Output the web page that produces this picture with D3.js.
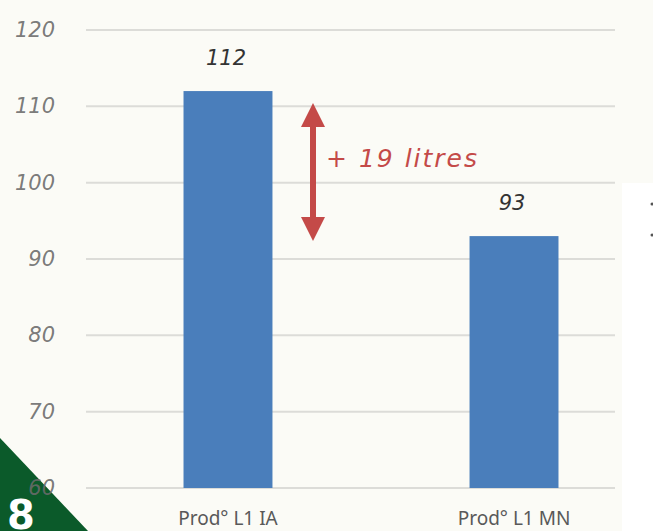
<!DOCTYPE html>
<html>
<head>
<meta charset="utf-8">
<script src="https://cdn.jsdelivr.net/npm/d3@7"></script>
<style>
  body { margin: 0; background: #fbfbf6; }
  svg { display: block; }
</style>
</head>
<body>
<div id="chart"></div>
<script>
const categories = ["Prod° L1 IA", "Prod° L1 MN"]
const values = [112, 93]
const yTicks = [60, 70, 80, 90, 100, 110, 120]
const pageNumber = "8"

const W = 653, H = 531
const svg = d3.select("#chart").append("svg")
    .attr("width", W)
    .attr("height", H)

svg.append("rect").attr("width", W).attr("height", H).attr("fill", "#fbfbf6")
// faded panel on the right
svg.append("rect").attr("x", 622).attr("y", 183).attr("width", 31).attr("height", 348).attr("fill", "#ffffff")
svg.append("circle").attr("cx", 652).attr("cy", 204).attr("r", 1.5).attr("fill", "#555")
svg.append("circle").attr("cx", 652).attr("cy", 235).attr("r", 1.5).attr("fill", "#555")

// page corner
svg.append("path")
    .attr("d", "M0,438 L88,531 L0,531 Z")
    .attr("fill", "#0b5a2a")
svg.append("text")
    .attr("x", 7)
    .attr("y", 529)
    .attr("font-family", "DejaVu Sans")
    .attr("font-weight", "bold")
    .attr("font-size", 40)
    .attr("fill", "#fff")
    .text(pageNumber)

const y = d3.scaleLinear().domain([60, 120]).range([488, 30])
const x = d3.scaleBand().domain(categories).range([105, 637]).paddingInner(0.689).paddingOuter(0.2745)

// gridlines
svg.append("g")
    .selectAll("line")
    .data(yTicks)
    .enter().append("line")
    .attr("x1", 86).attr("x2", 615)
    .attr("y1", d => y(d)).attr("y2", d => y(d))
    .attr("stroke", "#dcdcd8")
    .attr("stroke-width", 2)

// y axis labels
svg.append("g")
    .selectAll("text")
    .data(yTicks)
    .enter().append("text")
    .attr("x", 55)
    .attr("y", d => y(d) + 7)
    .attr("text-anchor", "end")
    .attr("font-family", "DejaVu Sans")
    .attr("font-style", "italic")
    .attr("font-size", 21)
    .attr("fill", "#6a6a6a")
    .attr("fill-opacity", 0.9)
    .text(d => d)

// bars
svg.append("g")
    .selectAll("rect")
    .data(values)
    .enter().append("rect")
    .attr("x", (d, i) => x(categories[i]))
    .attr("y", d => y(d))
    .attr("width", x.bandwidth())
    .attr("height", d => y(60) - y(d))
    .attr("fill", "#4a7ebb")

// value labels
svg.append("g")
    .selectAll("text")
    .data(values)
    .enter().append("text")
    .attr("x", (d, i) => x(categories[i]) + x.bandwidth() / 2 - 2)
    .attr("y", d => y(d) - 26)
    .attr("text-anchor", "middle")
    .attr("font-family", "DejaVu Sans")
    .attr("font-style", "italic")
    .attr("font-size", 21)
    .attr("fill", "#333")
    .text(d => d)

// category labels
svg.append("g")
    .selectAll("text")
    .data(categories)
    .enter().append("text")
    .attr("x", d => x(d) + x.bandwidth() / 2)
    .attr("y", 525)
    .attr("text-anchor", "middle")
    .attr("font-family", "Noto Sans")
    .attr("font-size", 19)
    .attr("fill", "#595959")
    .text(d => d)

// difference arrow
const red = "#c44a48"
const ax = 313
const arrowTop = y(values[0]) + 12, arrowBot = y(values[1]) + 5
svg.append("line")
    .attr("x1", ax).attr("x2", ax)
    .attr("y1", arrowTop + 20).attr("y2", arrowBot - 20)
    .attr("stroke", red).attr("stroke-width", 6)
svg.append("path")
    .attr("d", `M${ax},${arrowTop} L${ax - 12},${arrowTop + 24} L${ax + 12},${arrowTop + 24} Z`)
    .attr("fill", red)
svg.append("path")
    .attr("d", `M${ax},${arrowBot} L${ax - 12},${arrowBot - 24} L${ax + 12},${arrowBot - 24} Z`)
    .attr("fill", red)
svg.append("text")
    .attr("x", 326)
    .attr("y", 167)
    .attr("font-family", "DejaVu Sans")
    .attr("font-style", "italic")
    .attr("font-size", 25)
    .attr("letter-spacing", 2)
    .attr("fill", red)
    .text(`+ ${values[0] - values[1]} litres`)
</script>
</body>
</html>
